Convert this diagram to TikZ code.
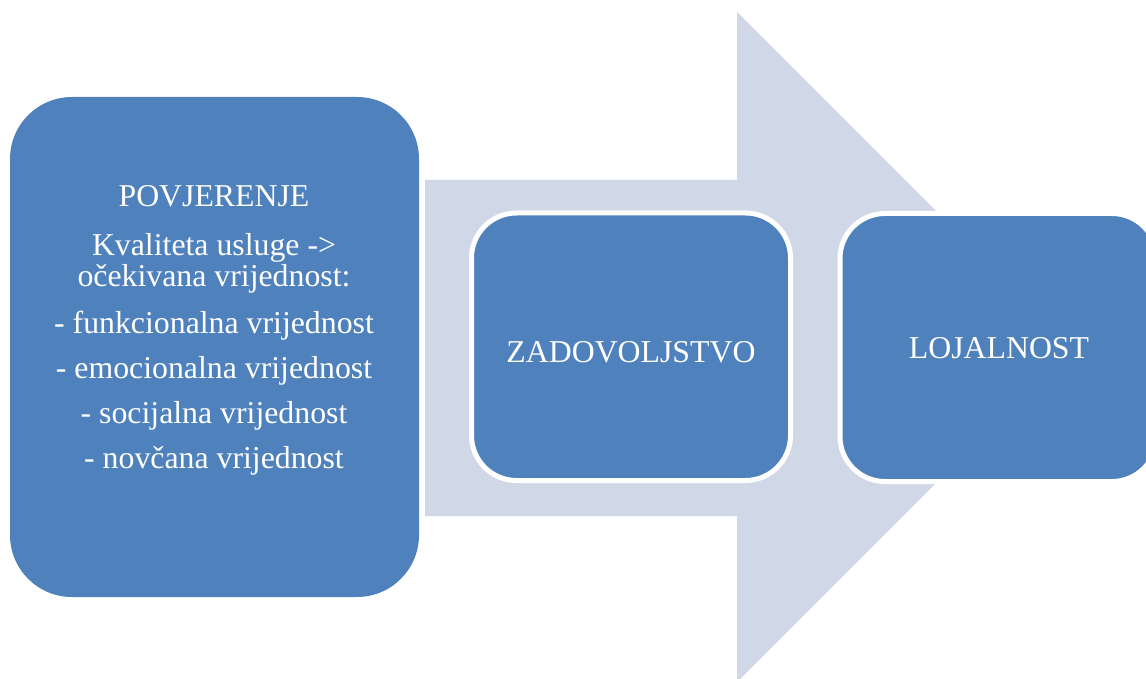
\documentclass[tikz,border=0pt]{standalone}
\usepackage{fontspec}
\setmainfont{Liberation Serif}
\definecolor{boxblue}{HTML}{4F81BD}
\definecolor{arrowgray}{HTML}{D0D8E8}
\begin{document}
\begin{tikzpicture}[x=1pt,y=-1pt,
  txt/.style={text=white,font=\fontsize{31.8}{32}\selectfont,anchor=base,inner sep=0pt},
  boxfill/.style={fill=boxblue},
  whiteedge/.style={fill=boxblue,draw=white,line width=5pt}]
\useasboundingbox (0,0) rectangle (1146,679);
\clip (0,0) rectangle (1146,679);
% big arrow
\fill[arrowgray] (425,180) -- (737,180) -- (737,12) -- (1072,347) -- (737,682) -- (737,516) -- (425,516) -- cycle;
% left box
\path[boxfill,rounded corners=62pt] (10,97) rectangle (419,597);
\node[txt] (l1) at (214,207) {POVJERENJE};
\node[txt] (l2) at (214,255) {Kvaliteta usluge ->};
\node[txt] (l3) at (214,287) {očekivana vrijednost:};
\node[txt] (l4) at (214,333) {- funkcionalna vrijednost};
\node[txt] (l5) at (214,378) {- emocionalna vrijednost};
\node[txt] (l6) at (214,423) {- socijalna vrijednost};
\node[txt] (l7) at (214,468) {- novčana vrijednost};
% middle box
\path[whiteedge,rounded corners=45pt] (471.5,213) rectangle (790.5,480.5);
\node[txt] (zad) at (631,362) {ZADOVOLJSTVO};
% right box
\path[whiteedge,rounded corners=45pt] (840,213.5) rectangle (1157,481.5);
\node[txt] (loj) at (999,358) {LOJALNOST};
\end{tikzpicture}
\end{document}
